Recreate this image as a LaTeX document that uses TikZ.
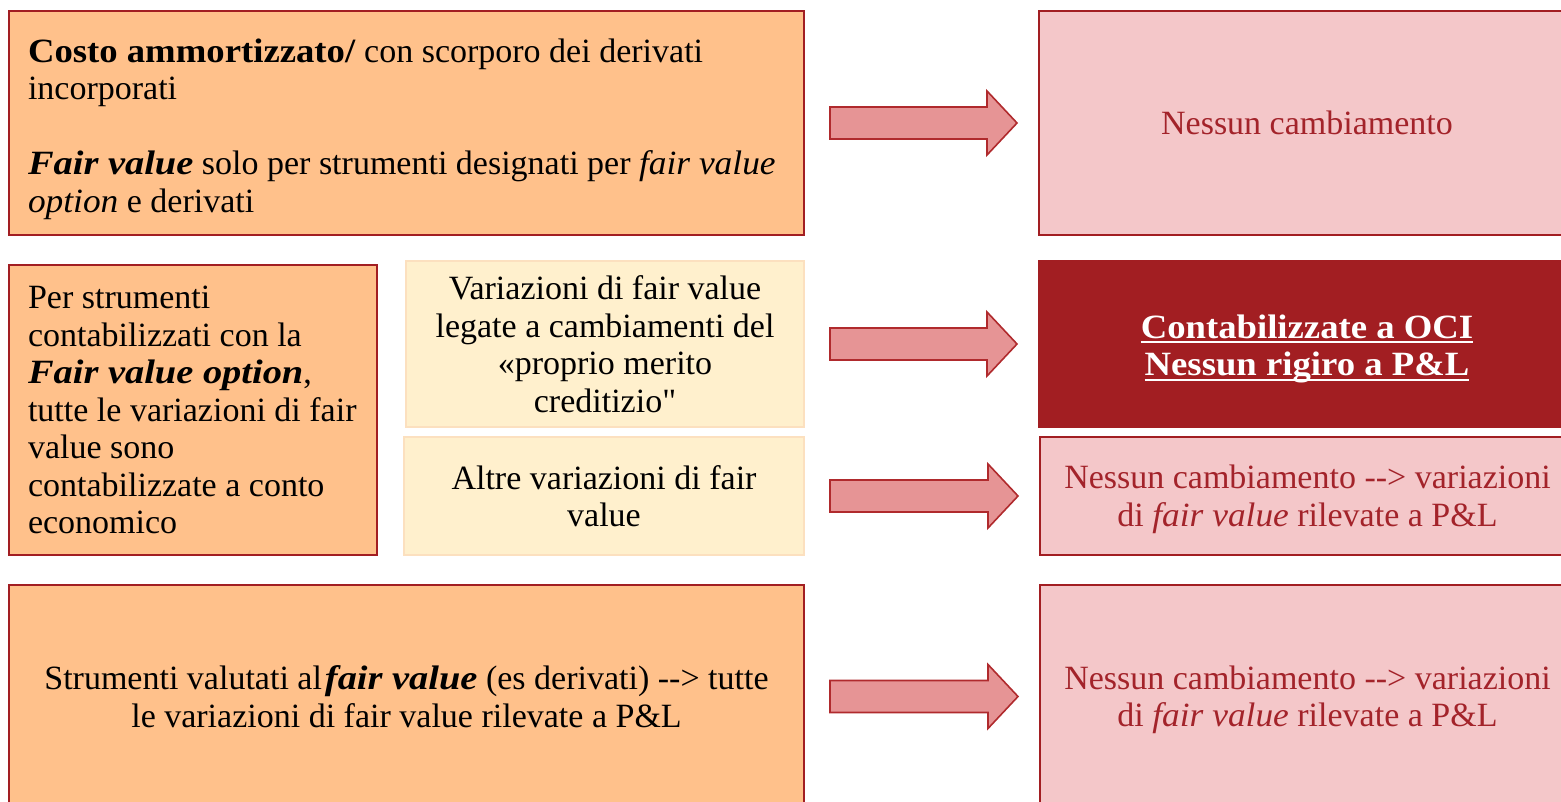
\documentclass[tikz,border=0pt]{standalone}
\usepackage{fontspec}
\setmainfont{Liberation Serif}[BoldFeatures={FakeStretch=1.08},
  BoldItalicFeatures={FakeStretch=1.13}, ItalicFeatures={FakeStretch=1.04}]
\newfontfamily\qfont{Liberation Serif}
\usetikzlibrary{calc}
\definecolor{peach}{HTML}{FFC18B}
\definecolor{dred}{HTML}{A21E22}
\definecolor{pinkf}{HTML}{F4C7C9}
\definecolor{arrf}{HTML}{E69495}
\definecolor{arrd}{HTML}{B02A2D}
\definecolor{yelf}{HTML}{FFF0CD}
\definecolor{yeld}{HTML}{FCE0BF}
\definecolor{ptext}{HTML}{A3232A}
\newcommand\ulwhite[1]{\setbox0\hbox{#1}\rlap{\smash{\rule[-5pt]{\wd0}{1.8pt}}}\box0}
\newcommand\blockarrow[2]{%
  \draw[blockarr] let \p1=(#1.east), \p2=(#2.west) in
    (\x1+26pt,\y1+16pt) -- (\x2-52pt,\y1+16pt) -- (\x2-52pt,\y1+32pt) --
    (\x2-22pt,\y1) -- (\x2-52pt,\y1-32pt) -- (\x2-52pt,\y1-16pt) --
    (\x1+26pt,\y1-16pt) -- cycle;}
\begin{document}
\begin{tikzpicture}[x=1pt,y=1pt,
  every node/.style={font=\fontsize{34}{37.5}\selectfont, outer sep=0pt, anchor=north west},
  basebox/.style={line width=2pt, inner sep=0pt},
  orangebox/.style={basebox, draw=dred, fill=peach, text=black},
  leftbox/.style={orangebox, inner xsep=19pt, align=flush left},
  pinkbox/.style={basebox, draw=dred, fill=pinkf, text=ptext, align=center},
  yellowbox/.style={basebox, draw=yeld, fill=yelf, text=black, align=center},
  darkbox/.style={basebox, draw=dred, fill=dred, text=white, align=center,
    font=\fontsize{34}{37.5}\selectfont\bfseries},
  blockarr/.style={draw=arrd, fill=arrf, line width=1.6pt, line join=miter}]
\useasboundingbox (0,0) rectangle (1561,-801);
% row 1
\node[leftbox, minimum width=795, minimum height=224, text width=757] (A) at (9,-11)
  {\mbox{\rule{0pt}{36pt}\textbf{Costo ammortizzato/} con scorporo dei derivati}\\
   \mbox{incorporati}\\[37.5pt]
   \mbox{\textbf{\textit{Fair value}} solo per strumenti designati per \textit{fair value}}\\
   \mbox{\textit{option} e derivati}};
\node[pinkbox, minimum width=536, minimum height=224] (B) at (1039,-11)
  {Nessun cambiamento};
% row 2
\node[leftbox, minimum width=368, minimum height=290, text width=330] (C) at (9,-265)
  {\mbox{Per strumenti}\\
   \mbox{contabilizzati con la}\\
   \mbox{\textbf{\textit{Fair value option}},}\\
   \mbox{tutte le variazioni di fair}\\
   \mbox{value sono}\\
   \mbox{contabilizzate a conto}\\
   \mbox{economico}};
\node[yellowbox, minimum width=398, minimum height=166] (D) at (406,-261)
  {Variazioni di fair value\\legate a cambiamenti del\\«proprio merito\\creditizio{\qfont"}};
\node[yellowbox, minimum width=400, minimum height=118] (E) at (404,-437)
  {Altre variazioni di fair\\value};
\node[darkbox, minimum width=536, minimum height=166] (F) at (1039,-261)
  {\rule{0pt}{33pt}\ulwhite{Contabilizzate a OCI}\\\ulwhite{Nessun rigiro a P\&L}};
\node[pinkbox, minimum width=535, minimum height=118] (G) at (1040,-437)
  {Nessun cambiamento -{}-> variazioni\\di \textit{\smash{f}air value} rilevate a P\&L};
% row 3
\node[orangebox, align=center, minimum width=795, minimum height=223] (H) at (9,-585)
  {Strumenti valutati al\hspace{3pt}\textbf{\textit{fair value}} (es derivati) -{}-> tutte\\
   le variazioni di fair value rilevate a P\&L};
\node[pinkbox, minimum width=535, minimum height=223] (I) at (1040,-585)
  {Nessun cambiamento -{}-> variazioni\\di \textit{\smash{f}air value} rilevate a P\&L};
% arrows
\blockarrow{A}{B}
\blockarrow{D}{F}
\blockarrow{E}{G}
\blockarrow{H}{I}
\end{tikzpicture}
\end{document}
